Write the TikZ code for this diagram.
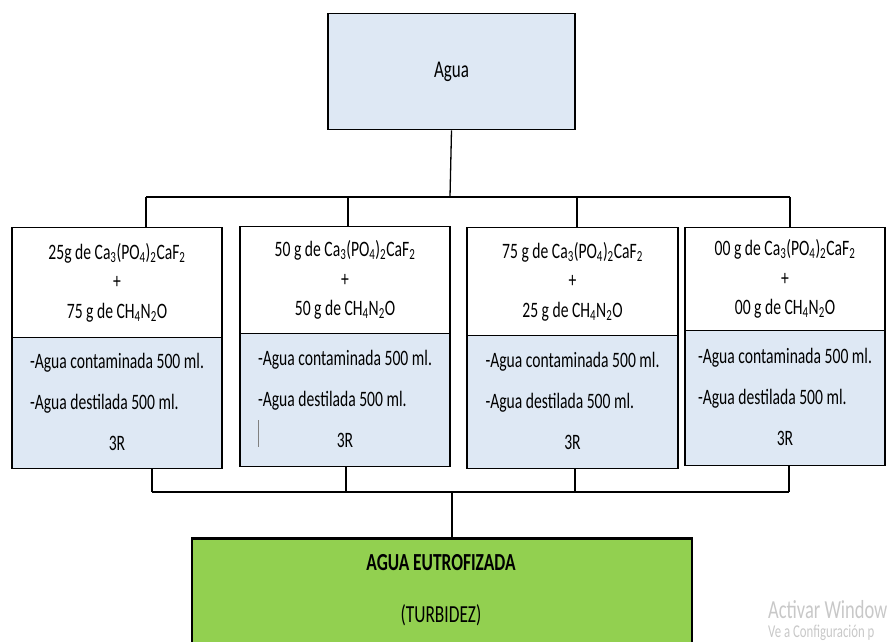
\documentclass[tikz,border=0pt]{standalone}
\usepackage{fontspec}
\setmainfont{Carlito}[FakeStretch=0.71]
\definecolor{azul}{HTML}{DEE8F4}
\definecolor{verde}{HTML}{92D050}
\definecolor{marca}{HTML}{C8C8C8}
\newcommand{\fosf}{Ca\textsubscript{3}(PO\textsubscript{4})\textsubscript{2}CaF\textsubscript{2}}
\newcommand{\urea}{CH\textsubscript{4}N\textsubscript{2}O}
\newcommand{\muestras}{\begin{tabular}{@{}l@{}}-Agua contaminada 500 ml.\\-Agua destilada 500 ml.\\\multicolumn{1}{@{}c@{}}{3R}\\[4pt]\end{tabular}}
\begin{document}
\begin{tikzpicture}[x=1pt,y=-1pt,
	caja/.style={draw,line width=1.3pt,inner sep=0pt,anchor=north},
	mezcla/.style={caja,fill=white,align=center,font=\fontsize{22}{29.5}\selectfont},
	muestra/.style={caja,fill=azul,font=\fontsize{22}{41}\selectfont},
	linea/.style={line width=1.3pt}]
\useasboundingbox (0,0) rectangle (887,642);
\clip (0,0) rectangle (887,642);
% agua de partida
\node[caja,fill=azul,minimum width=247pt,minimum height=116pt,font=\fontsize{24}{28}\selectfont] (agua) at (451.5,13) {Agua};
% mezclas de fosfato y urea
\node[mezcla,minimum width=210pt,minimum height=110pt] (m1) at (117,227) {25g de \fosf\\+\\75 g de \urea};
\node[mezcla,minimum width=210pt,minimum height=107pt] (m2) at (345,226) {50 g de \fosf\\+\\50 g de \urea};
\node[mezcla,minimum width=211pt,minimum height=108pt] (m3) at (572.5,227) {75 g de \fosf\\+\\25 g de \urea};
\node[mezcla,minimum width=200pt,minimum height=103pt] (m4) at (785,227) {00 g de \fosf\\+\\00 g de \urea};
% muestras
\node[muestra,minimum width=210pt,minimum height=131pt] (p1) at (117,337) {\muestras};
\node[muestra,minimum width=210pt,minimum height=133pt] (p2) at (345,333) {\muestras};
\node[muestra,minimum width=211pt,minimum height=133pt] (p3) at (572.5,335) {\muestras};
\node[muestra,minimum width=200pt,minimum height=135pt] (p4) at (785,330) {\muestras};
\draw[gray,line width=0.6pt] (258,420) -- (258,447);
% resultado
\node[caja,fill=verde,line width=2.5pt,minimum width=500pt,minimum height=130pt] (eutro) at (442,537) {};
\node[font=\fontsize{24.5}{28}\bfseries\selectfont] (eutroT) at (441,563) {AGUA EUTROFIZADA};
\node[font=\fontsize{24.5}{28}\selectfont] (turb) at (441,615) {(TURBIDEZ)};
% conexiones
\coordinate (bus) at (450,197);
\draw[linea] (agua.south) -- (bus);
\foreach \i/\x in {1/146,2/348,3/577,4/790}{
	\coordinate (s\i) at (\x,197);
	\draw[linea] (s\i) -- (s\i |- m\i.north);
}
\draw[linea] (s1) -- (s4);
\foreach \i/\x in {1/152,2/346,3/575,4/789}{
	\coordinate (i\i) at (\x,492);
	\draw[linea] (i\i |- p\i.south) -- (i\i);
}
\draw[linea] (i1) -- (i4);
\coordinate (base) at (452,492);
\draw[linea] (base) -- (base |- eutro.north);
% marca de agua
\node[anchor=base west,inner sep=0pt,text=marca,font=\fontsize{26}{28}\selectfont] (activar) at (768,618) {Activar Window};
\node[anchor=base west,inner sep=0pt,text=marca,font=\fontsize{18}{20}\selectfont] (config) at (768,637) {Ve a Configuración p};
\end{tikzpicture}
\end{document}
